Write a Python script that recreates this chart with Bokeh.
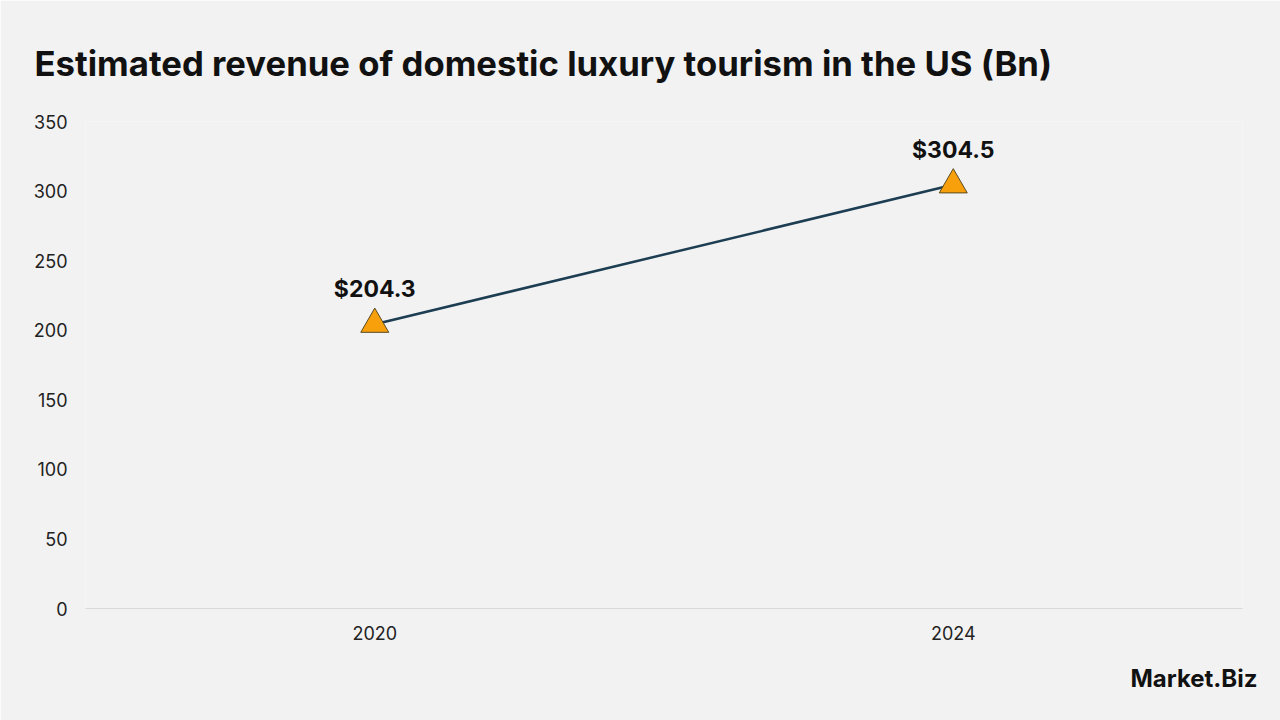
from bokeh.plotting import figure
from bokeh.models import ColumnDataSource, Range1d, FactorRange, Title
from bokeh.core.properties import value
from bokeh.embed import file_html
from bokeh.resources import INLINE

years = ["2020", "2024"]
revenue = [204.3, 304.5]
labels = ["$204.3", "$304.5"]
y_ticks = [0, 50, 100, 150, 200, 250, 300, 350]

FONT = "Inter"

src = ColumnDataSource(dict(x=years, y=revenue, label=labels))

p = figure(width=1280, height=720, x_range=FactorRange(*years), y_range=Range1d(0, 350),
           output_backend="svg", toolbar_location=None,
           min_border_left=85, min_border_right=38, min_border_top=121, min_border_bottom=112,
           background_fill_color="#f2f2f2", border_fill_color="#f2f2f2", outline_line_color=None)

p.title.text = "Estimated revenue of domestic luxury tourism in the US (Bn)"
p.title.text_font = FONT
p.title.text_font_style = "bold"
p.title.text_font_size = "34.7px"
p.title.text_color = "#111111"
p.title.align = "left"
p.title.offset = -51
p.title.standoff = 76

p.add_layout(Title(text="Market.Biz", align="right", offset=-15, standoff=42,
                   vertical_align="top",
                   text_font=FONT, text_font_style="bold", text_font_size="24px",
                   text_color="#111111"), "below")

p.xgrid.grid_line_color = None
p.ygrid.grid_line_color = None

p.yaxis.ticker = y_ticks
p.yaxis.axis_line_color = None
p.yaxis.major_tick_line_color = None
p.yaxis.minor_tick_line_color = None
p.yaxis.major_label_text_font = FONT
p.yaxis.major_label_text_font_size = "18px"
p.yaxis.major_label_text_color = "#222222"
p.yaxis.major_label_standoff = 12

p.xaxis.axis_line_color = "#d9d9d9"
p.xaxis.axis_line_width = 1
p.xaxis.major_tick_line_color = None
p.xaxis.minor_tick_line_color = None
p.xaxis.major_label_text_font = FONT
p.xaxis.major_label_text_font_size = "18px"
p.xaxis.major_label_text_color = "#222222"
p.xaxis.major_label_standoff = 11

p.line("x", "y", source=src, line_color="#1c3d52", line_width=2.5)
p.scatter("x", "y", source=src, marker="triangle", size=28, fill_color="#f7a00c",
          line_color="#5a4a20", line_width=1)
p.text("x", "y", text="label", source=src, y_offset=-21, text_align="center",
       text_baseline="bottom", text_font=value(FONT), text_font_style="bold",
       text_font_size="23px", text_color="#111111")

open("out.html", "w").write(file_html(p, INLINE))
